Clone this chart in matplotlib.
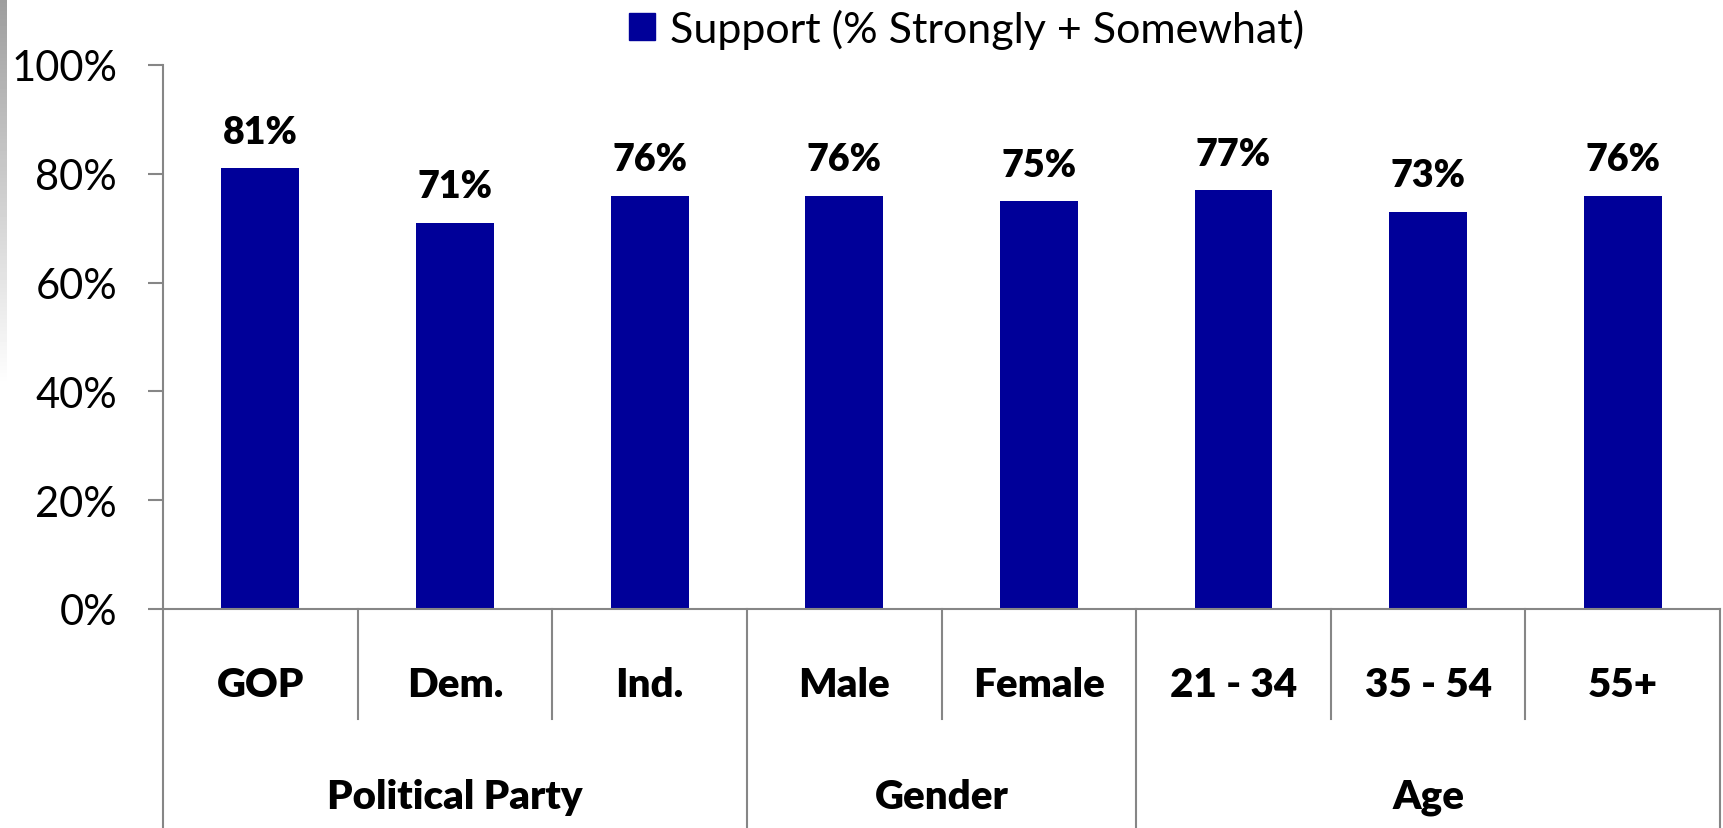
import numpy as np
import matplotlib.pyplot as plt
from matplotlib.patches import Patch

# data
categories = ["GOP", "Dem.", "Ind.", "Male", "Female", "21 - 34", "35 - 54", "55+"]
support = [81, 71, 76, 76, 75, 77, 73, 76]
groups = ["Political Party", "Gender", "Age"]
group_sizes = [3, 2, 3]
yticks = [0, 20, 40, 60, 80, 100]

BAR = "#000099"
GRID = "#868686"
FONT = "Lato"

plt.rcParams["font.family"] = [FONT, "DejaVu Sans"]

fig = plt.figure(figsize=(17.23, 8.29), dpi=100)
ax = fig.add_axes([0.0946, 0.2642, 0.9037, 0.6562])

x = np.arange(len(categories))
ax.bar(x, support, width=0.4, color=BAR, zorder=2)

for xi, v in zip(x, support):
    ax.annotate("{}%".format(v), (xi, v), xytext=(0, 14), textcoords="offset points",
                ha="center", va="bottom", fontsize=27, fontweight="heavy")

ax.set_xlim(-0.5, len(categories) - 0.5)
ax.set_ylim(0, 100)
ax.set_yticks(yticks)
ax.set_yticklabels(["{}%".format(t) for t in yticks], fontsize=30)
ax.tick_params(axis="y", length=11, width=1.5, color=GRID, pad=22)
ax.set_xticks([])

for s in ["top", "right"]:
    ax.spines[s].set_visible(False)
for s in ["left", "bottom"]:
    ax.spines[s].set_color(GRID)
    ax.spines[s].set_linewidth(1.5)

# category labels and separators below the axis
trans = ax.get_xaxis_transform()
for xi, c in zip(x, categories):
    ax.text(xi, -0.138, c, transform=trans, ha="center", va="center",
            fontsize=29, fontweight="heavy")

bounds = np.cumsum([0] + group_sizes) - 0.5
for b in np.arange(-0.5, len(categories)):
    bottom = -0.41 if b in bounds else -0.202
    ax.plot([b, b], [0, bottom], transform=trans, color=GRID, lw=1.5, clip_on=False)

for g, lo, hi in zip(groups, bounds[:-1], bounds[1:]):
    ax.text((lo + hi) / 2, -0.344, g, transform=trans, ha="center", va="center",
            fontsize=29, fontweight="heavy")

ax.legend(handles=[Patch(color=BAR, label="Support (% Strongly + Somewhat)")],
          loc="center", bbox_to_anchor=(0.516, 1.067), frameon=False,
          fontsize=31, handlelength=0.6, handleheight=0.6, handletextpad=0.35,
          borderaxespad=0, borderpad=0)

# grey fade strip on the left edge
strip = fig.add_axes([0, 0.53, 0.0035, 0.47])
grad = np.linspace(1.0, 0.62, 100).reshape(-1, 1)
strip.imshow(grad, aspect="auto", cmap="gray", vmin=0, vmax=1, origin="lower")
strip.axis("off")

fig.savefig("out.png", dpi=100)
